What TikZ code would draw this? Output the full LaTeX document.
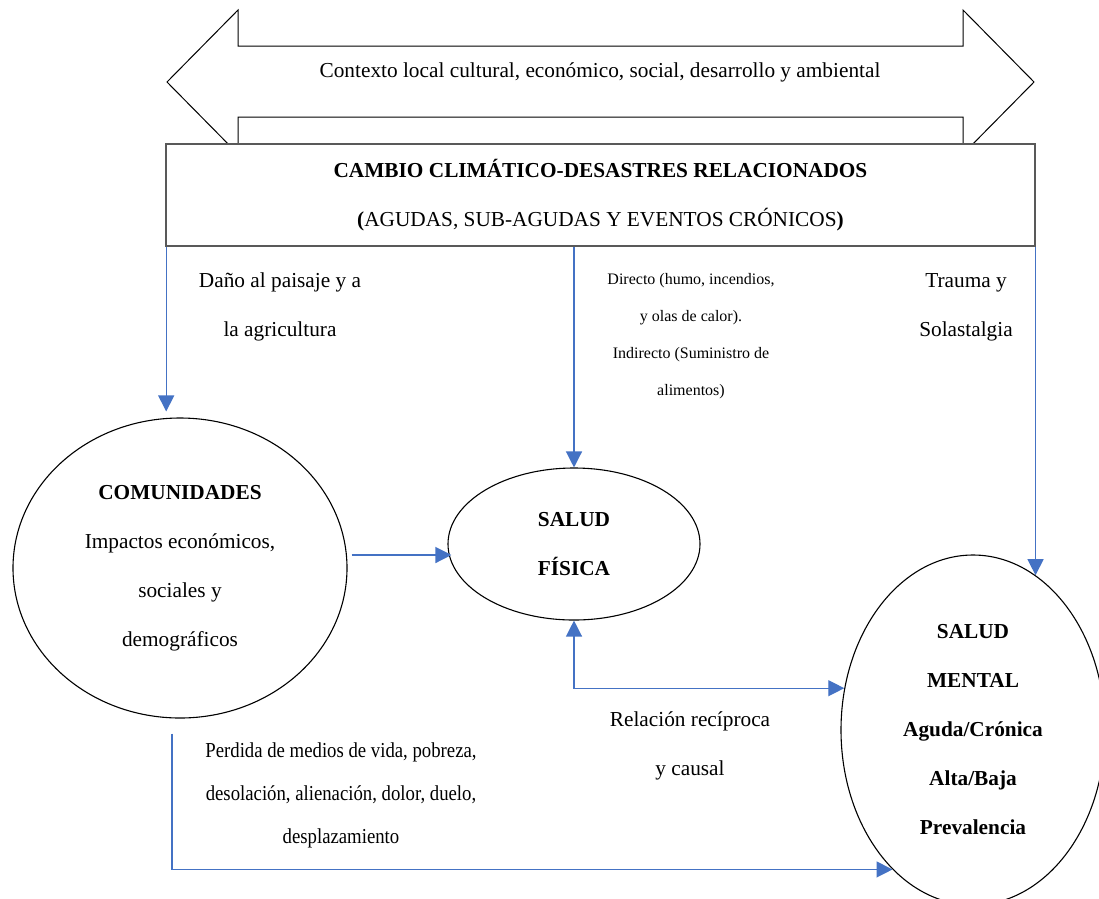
\documentclass[tikz,border=0pt]{standalone}
\usepackage{fontspec}
\setmainfont{Liberation Serif}
\newfontfamily\angosta[FakeStretch=0.88]{Liberation Serif}
\usetikzlibrary{shapes.geometric,arrows.meta}
\definecolor{azul}{HTML}{4472C4}
\definecolor{borde}{HTML}{595959}

\begin{document}
\begin{tikzpicture}[x=1pt,y=-1pt,>={Triangle[length=16pt,width=16pt]},
    texto/.style={font=\fontsize{21.3}{49}\selectfont,align=center},
    chico/.style={font=\fontsize{16}{37}\selectfont,align=center},
    elipse/.style={ellipse,draw,line width=1.1pt,inner sep=0pt,texto},
    flecha/.style={azul,line width=1.3pt,->},
  ]
  \useasboundingbox (0,0) rectangle (1099,898);

  % contexto
  \draw[line width=1pt] (167,82) -- (238,10) -- (238,46) -- (963,46) -- (963,10) -- (1034,82)
    -- (963,154) -- (963,117) -- (238,117) -- (238,154) -- cycle;
  \node[texto] (contexto) at (600,72) {Contexto local cultural, económico, social, desarrollo y ambiental};

  \node[draw=borde,fill=white,line width=1.6pt,minimum width=869,minimum height=102,texto] (cambio) at (600.5,195)
    {\textbf{CAMBIO CLIMÁTICO-DESASTRES RELACIONADOS}\\\textbf{(}AGUDAS, SUB-AGUDAS Y EVENTOS CRÓNICOS\textbf{)}};

  % elipses
  \node[elipse,minimum width=334,minimum height=300] (comun) at (180,568)
    {\textbf{COMUNIDADES}\\Impactos económicos,\\sociales y\\demográficos};
  \node[elipse,minimum width=252,minimum height=152] (fisica) at (574,544)
    {\textbf{SALUD}\\\textbf{FÍSICA}};
  \node[elipse,minimum width=264,minimum height=350] (mental) at (973,730)
    {\textbf{SALUD}\\\textbf{MENTAL}\\\textbf{Aguda/Crónica}\\\textbf{Alta/Baja}\\\textbf{Prevalencia}};

  % flechas
  \draw[flecha,shorten >=6pt] ([xshift=1pt]cambio.south west) -- ([xshift=1pt]cambio.south west |- comun.north);
  \draw[flecha] (cambio.south -| fisica.north) -- (fisica.north);
  \draw[flecha] (cambio.south -| mental.68) -- (mental.68);
  \draw[flecha] ([shift={(4,-13)}]comun.east) -- ([shift={(4,-13)}]comun.east -| fisica.west);
  \draw[flecha,<->] (fisica.south) |- (mental.162);
  \draw[flecha] ([shift={(-8,15)}]comun.south) |- (mental.240);

  % etiquetas
  \node[texto] (dano) at (280,307) {Daño al paisaje y a\\la agricultura};
  \node[chico] (directo) at (691,336) {Directo (humo, incendios,\\y olas de calor).\\Indirecto (Suministro de\\alimentos)};
  \node[texto] (trauma) at (966,307) {Trauma y\\Solastalgia};
  \node[texto] (relacion) at (690,746) {Relación recíproca\\y causal};
  \node[texto,font=\angosta\fontsize{21.3}{43}\selectfont] (perdida) at (341,795)
    {Perdida de medios de vida, pobreza,\\desolación, alienación, dolor, duelo,\\desplazamiento};
\end{tikzpicture}
\end{document}
